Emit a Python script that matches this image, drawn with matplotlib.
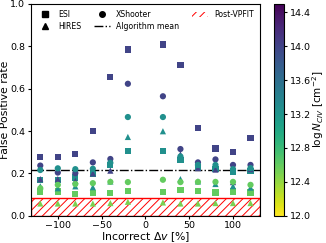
import numpy as np
import matplotlib
matplotlib.use("Agg")
import matplotlib.pyplot as plt
from matplotlib.lines import Line2D
from matplotlib.patches import Patch

nan = np.nan
dv = [-120, -100, -80, -60, -40, -20, 20, 40, 60, 80, 100, 120]

# log N values of the three column-density groups
N_high, N_mid, N_low, N_lowest = 14.0, 13.25, 12.6, 12.5

# ESI (squares)
esi_high = [0.279, 0.279, 0.290, 0.399, 0.656, 0.785, 0.808, 0.710, 0.415, 0.318, 0.302, 0.368]
esi_mid  = [0.170, 0.170, 0.181, 0.196, 0.240, 0.307, 0.307, 0.265, 0.225, 0.220, 0.209, 0.210]
esi_low  = [0.115, 0.115, 0.103, 0.107, 0.107, 0.118, 0.112, 0.120, 0.117, 0.110, 0.115, 0.110]
# HIRES (triangles)
hir_high = [0.173, 0.173, 0.165, 0.200, 0.213, nan, nan, 0.290, 0.225, 0.218, 0.159, 0.220]
hir_mid  = [0.139, 0.130, 0.139, 0.135, 0.162, 0.372, 0.399, 0.173, 0.162, 0.150, 0.140, 0.133]
hir_low  = [0.058, 0.058, 0.058, 0.058, 0.060, 0.066, 0.063, 0.058, 0.058, 0.060, 0.060, 0.060]
# XShooter (circles)
xsh_high = [0.237, 0.204, 0.201, 0.252, 0.268, 0.623, 0.564, 0.315, 0.252, 0.266, 0.240, 0.240]
xsh_mid  = [0.216, 0.224, 0.220, 0.222, 0.250, 0.466, 0.466, 0.280, 0.240, 0.240, 0.220, 0.225]
xsh_low  = [0.130, 0.146, 0.150, 0.154, 0.160, 0.159, 0.170, 0.159, 0.160, 0.160, 0.160, 0.146]

alg_mean = 0.217
post_vpfit = 0.084

fig = plt.figure(figsize=(3.26, 2.43), dpi=100)
ax = fig.add_axes([0.094, 0.112, 0.704, 0.872])
cax = fig.add_axes([0.84, 0.112, 0.031, 0.872])

cmap = plt.get_cmap('viridis_r')
norm = matplotlib.colors.Normalize(vmin=12.0, vmax=14.5)
s = 20

groups = [
    ('s', [(esi_high, N_high), (esi_mid, N_mid), (esi_low, N_low)]),
    ('^', [(hir_high, N_high), (hir_mid, N_mid), (hir_low, N_lowest)]),
    ('o', [(xsh_high, N_high), (xsh_mid, N_mid), (xsh_low, N_low)]),
]
for marker, series in groups:
    for vals, N in series:
        ax.scatter(dv, vals, c=[N] * len(dv), cmap=cmap, norm=norm,
                   marker=marker, s=s, linewidths=0, zorder=3)

ax.axhline(alg_mean, color='black', ls='-.', lw=1.0, zorder=2)
matplotlib.rcParams['hatch.linewidth'] = 0.7
ax.axhspan(0, post_vpfit, fill=False, hatch='////', edgecolor='red', lw=1.0, zorder=1)

ax.set_xlim(-131, 131)
ax.set_ylim(0, 1.0)
ax.set_xticks([-100, -50, 0, 50, 100])
ax.set_yticks([0.0, 0.2, 0.4, 0.6, 0.8, 1.0])
ax.tick_params(labelsize=6.8, length=2.5, pad=1.5)
ax.set_xlabel(r'Incorrect $\Delta v$ [%]', fontsize=7.8, labelpad=0)
ax.set_ylabel('False Positive rate', fontsize=7.8, labelpad=0)

h1 = [Line2D([], [], marker='s', color='black', ls='none', markersize=4, label='ESI'),
      Line2D([], [], marker='^', color='black', ls='none', markersize=4, label='HIRES'),
      Line2D([], [], marker='o', color='black', ls='none', markersize=4, label='XShooter'),
      Line2D([], [], color='black', ls='-.', lw=1.0, label='Algorithm mean')]
leg1 = ax.legend(handles=h1, loc='upper left', ncol=2, fontsize=5.6, frameon=False,
                 handlelength=2.0, columnspacing=1.6, handletextpad=0.8,
                 borderaxespad=0.4, labelspacing=0.35)
ax.add_artist(leg1)
h2 = [Patch(fill=False, hatch='////', edgecolor='red', lw=0, label='Post-VPFIT')]
ax.legend(handles=h2, loc='upper right', fontsize=5.6, frameon=False,
          handlelength=2.0, handletextpad=0.8, borderaxespad=0.4)

sm = matplotlib.cm.ScalarMappable(norm=norm, cmap=cmap)
cb = fig.colorbar(sm, cax=cax)
cb.set_ticks([12.0, 12.4, 12.8, 13.2, 13.6, 14.0, 14.4])
cb.ax.set_yticklabels(['12.0', '12.4', '12.8', '13.2', '13.6', '14.0', '14.4'])
cb.ax.tick_params(labelsize=6.8, length=2.5, pad=1.5)
cb.set_label(r'$\log N_{CIV}$ [cm$^{-2}$]', fontsize=7.5, labelpad=0)

fig.savefig('out.png', dpi=100)
